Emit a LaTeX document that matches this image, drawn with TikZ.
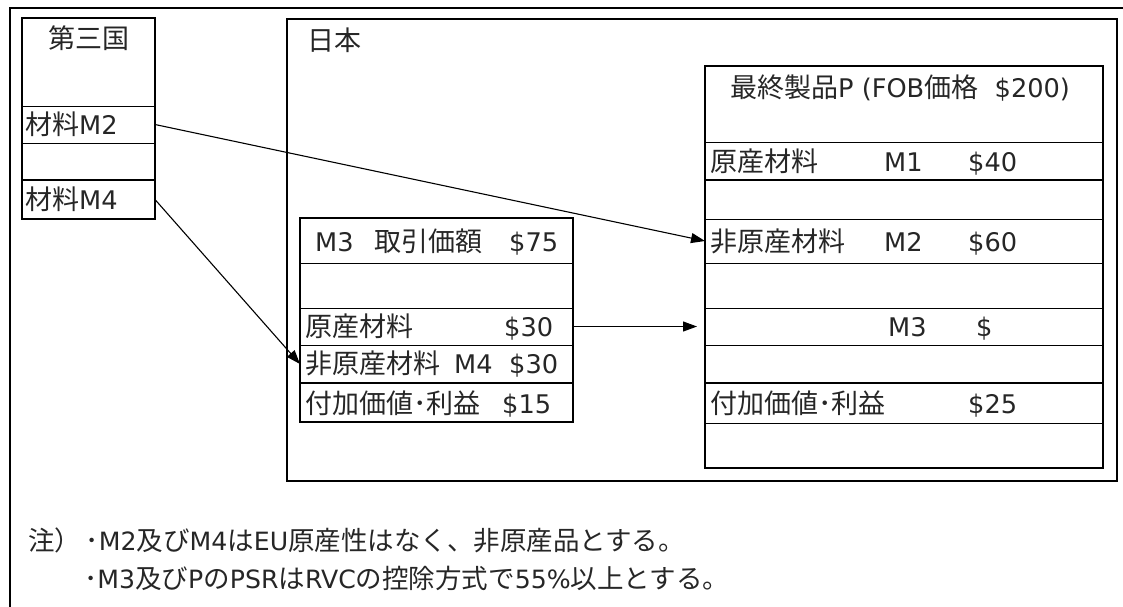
\documentclass[tikz,border=0pt]{standalone}
\usepackage{fontspec}
\setmainfont{Noto Sans CJK JP}
\newfontfamily\latinfnt[Scale=0.95]{DejaVu Sans}
\newcommand\LatinTxt[1]{{\latinfnt #1}}
\usetikzlibrary{arrows.meta}
\begin{document}
\begin{tikzpicture}[x=1pt,y=-1pt,
  cell/.style={draw, line width=0.9pt, inner sep=0pt, outer sep=0pt, anchor=north west},
  frame/.style={draw, line width=2.2pt},
  thick divider/.style={line width=2pt},
  lbl/.style={anchor=base west, inner sep=0pt, text=black!85, font=\fontsize{27}{32}\selectfont},
  note/.style={anchor=base west, inner sep=0pt, text=black!85, font=\fontsize{26.5}{30}\selectfont},
  arr/.style={-{Triangle[length=14pt,width=10pt]}, line width=1.1pt}]
\useasboundingbox (0,0) rectangle (1123,606);
% outer frame (cut at right and bottom)
\draw[line width=2.6pt] (10,610) -- (10,8) -- (1130,8);
% Japan box
\node[frame, anchor=north west, inner sep=0pt, minimum width=830pt, minimum height=462pt] (japan) at (286,18) {};
\node[lbl] (japanlbl) at (307,50) {日本};

% third country box
\node[cell, minimum width=133pt, minimum height=88pt] (tctitle) at (22,18) {};
\node[cell, minimum width=133pt, minimum height=37pt] (tcm2) at (22,106) {};
\node[cell, minimum width=133pt, minimum height=37pt] (tcgap) at (22,143) {};
\node[cell, minimum width=133pt, minimum height=39pt] (tcm4) at (22,180) {};
\draw[frame] (tctitle.north west) rectangle (tcm4.south east);
\draw[thick divider] (tcm4.north west) -- (tcm4.north east);
\node[lbl, anchor=base] (tclbl) at (89,48) {第三国};
\node[lbl] (tcm2lbl) at (25,134) {材料\LatinTxt{M2}};
\node[lbl] (tcm4lbl) at (25,209) {材料\LatinTxt{M4}};

% M3 box
\node[cell, minimum width=273pt, minimum height=45pt] (mtitle) at (300,218) {};
\node[cell, minimum width=273pt, minimum height=45pt] (mgap) at (300,263) {};
\node[cell, minimum width=273pt, minimum height=37pt] (morig) at (300,308) {};
\node[cell, minimum width=273pt, minimum height=38pt] (mnon) at (300,345) {};
\node[cell, minimum width=273pt, minimum height=39pt] (mva) at (300,383) {};
\draw[frame] (mtitle.north west) rectangle (mva.south east);
\draw[thick divider] (mva.north west) -- (mva.north east);
\node[lbl] (mt1) at (315,251) {\LatinTxt{M3}};
\node[lbl] (mt2) at (374,251) {取引価額};
\node[lbl] (mt3) at (509,251) {\LatinTxt{\$75}};
\node[lbl] (mo1) at (305,336) {原産材料};
\node[lbl] (mo2) at (504,336) {\LatinTxt{\$30}};
\node[lbl] (mn1) at (305,373) {非原産材料};
\node[lbl] (mn2) at (454,373) {\LatinTxt{M4}};
\node[lbl] (mn3) at (509,373) {\LatinTxt{\$30}};
\node[lbl] (mv1) at (305,413) {付加価値･利益};
\node[lbl] (mv2) at (502,413) {\LatinTxt{\$15}};

% final product box
\node[cell, minimum width=398pt, minimum height=76pt] (ptitle) at (705,66) {};
\node[cell, minimum width=398pt, minimum height=38pt] (pm1) at (705,142) {};
\node[cell, minimum width=398pt, minimum height=39pt] (pgapa) at (705,180) {};
\node[cell, minimum width=398pt, minimum height=44pt] (pm2) at (705,219) {};
\node[cell, minimum width=398pt, minimum height=45pt] (pgapb) at (705,263) {};
\node[cell, minimum width=398pt, minimum height=37pt] (pm3) at (705,308) {};
\node[cell, minimum width=398pt, minimum height=38pt] (pgapc) at (705,345) {};
\node[cell, minimum width=398pt, minimum height=40pt] (pva) at (705,383) {};
\node[cell, minimum width=398pt, minimum height=45pt] (pgapd) at (705,423) {};
\draw[frame] (ptitle.north west) rectangle (pgapd.south east);
\draw[thick divider] (pgapa.north west) -- (pgapa.north east);
\draw[thick divider] (pva.north west) -- (pva.north east);
\node[lbl] (pt) at (730,97) {最終製品\LatinTxt{P (FOB}価格\LatinTxt{\ \ \$200)}};
\node[lbl] (p1a) at (710,171) {原産材料};
\node[lbl] (p1b) at (884,171) {\LatinTxt{M1}};
\node[lbl] (p1c) at (968,171) {\LatinTxt{\$40}};
\node[lbl] (p2a) at (710,251) {非原産材料};
\node[lbl] (p2b) at (884,251) {\LatinTxt{M2}};
\node[lbl] (p2c) at (968,251) {\LatinTxt{\$60}};
\node[lbl] (p3b) at (888,336) {\LatinTxt{M3}};
\node[lbl] (p3c) at (976,336) {\LatinTxt{\$}};
\node[lbl] (p4a) at (710,413) {付加価値･利益};
\node[lbl] (p4c) at (968,413) {\LatinTxt{\$25}};

% connectors
\draw[arr] (tcm2.east) -- (pm2.west);
\draw[arr] (tcm4.east) -- (mnon.west);
\coordinate (pm3in) at ([xshift=-8pt]pm3.west);
\draw[arr] (morig.east) -- (pm3in);

% notes
\node[note] (n1) at (28,550) {注）\,･\LatinTxt{M2}及び\LatinTxt{M4}は\LatinTxt{EU}原産性はなく、非原産品とする。};
\node[note] (n2) at (84,588) {･\LatinTxt{M3}及び\LatinTxt{P}の\LatinTxt{PSR}は\LatinTxt{RVC}の控除方式で\LatinTxt{55\%}以上とする。};
\end{tikzpicture}
\end{document}
